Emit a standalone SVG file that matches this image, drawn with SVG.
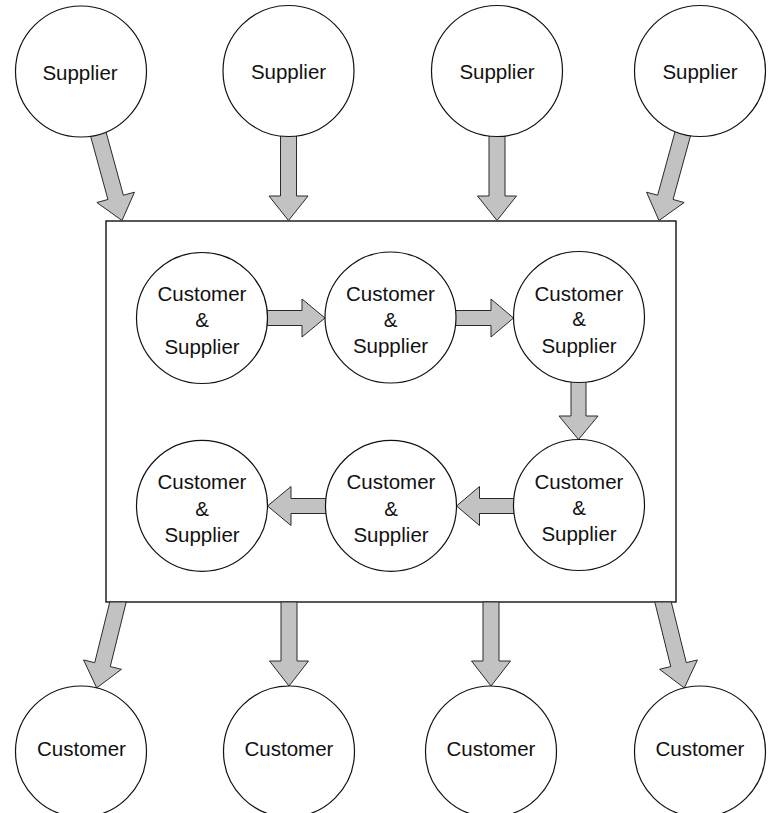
<svg xmlns="http://www.w3.org/2000/svg" width="768" height="813" viewBox="0 0 768 813">
<style>
.node circle{fill:#fff;stroke:#111;stroke-width:1.2}
.box{fill:#fff;stroke:#111;stroke-width:1.4}
.arr polygon{fill:#c2c2c2;stroke:#2a2a2a;stroke-width:1;stroke-linejoin:miter}
text{font-family:"Liberation Sans",Arial,Helvetica,sans-serif;font-size:20.5px;fill:#111;text-anchor:middle}
</style>
<rect width="768" height="813" fill="#fff"/>
<g id="system">
<rect class="box" x="106" y="221" width="570" height="381"/>
</g>
<g id="connectors" class="arr">
<polygon points="87.84,126.16 107.94,199.47 96.85,202.51 122,220.5 134.46,192.2 123.37,195.24 103.27,121.92"/>
<polygon points="280.5,125 280.5,196 269,196 288.5,220.5 308,196 296.5,196 296.5,125"/>
<polygon points="489,125 489,196 477.5,196 497,220.5 516.5,196 505,196 505,125"/>
<polygon points="693.16,126.16 673.06,199.47 684.15,202.51 659,220.5 646.54,192.2 657.63,195.24 677.73,121.92"/>
<polygon points="109.75,602 94.73,662.7 83.57,659.94 96.73,687.92 121.42,669.31 110.26,666.55 126.23,602"/>
<polygon points="281,602 281,661 269.5,661 289,686 308.5,661 297,661 297,602"/>
<polygon points="483,602 483,661 471.5,661 491,686 510.5,661 499,661 499,602"/>
<polygon points="671.25,602 686.27,662.7 697.43,659.94 684.27,687.92 659.58,669.31 670.74,666.55 654.77,602"/>
<polygon points="260,310.5 302,310.5 302,299 325,318 302,337 302,325.5 260,325.5"/>
<polygon points="450,310.5 491,310.5 491,299 513.5,318 491,337 491,325.5 450,325.5"/>
<polygon points="571,375 571,416 559,416 578.5,439.5 598,416 586,416 586,375"/>
<polygon points="520,498.5 479.5,498.5 479.5,486.5 456.5,506 479.5,525.5 479.5,513.5 520,513.5"/>
<polygon points="330,498.5 291,498.5 291,486.5 267.5,506 291,525.5 291,513.5 330,513.5"/>
</g>
<g id="supplier1" class="node"><circle cx="81" cy="71.5" r="65.5"/><text x="80" y="80">Supplier</text></g>
<g id="supplier2" class="node"><circle cx="288.5" cy="71" r="65.5"/><text x="288.5" y="79">Supplier</text></g>
<g id="supplier3" class="node"><circle cx="497" cy="71" r="65.5"/><text x="497" y="79">Supplier</text></g>
<g id="supplier4" class="node"><circle cx="700" cy="71" r="65.5"/><text x="700" y="79">Supplier</text></g>
<g id="cs1" class="node"><circle cx="202" cy="318" r="65.5"/><text x="202" y="301">Customer</text><text x="202" y="327">&amp;</text><text x="202" y="353.5">Supplier</text></g>
<g id="cs2" class="node"><circle cx="390.5" cy="317.5" r="65.5"/><text x="390.5" y="300.5">Customer</text><text x="390.5" y="326.5">&amp;</text><text x="390.5" y="353">Supplier</text></g>
<g id="cs3" class="node"><circle cx="579" cy="317" r="65.5"/><text x="579" y="300.5">Customer</text><text x="579" y="326">&amp;</text><text x="579" y="352.5">Supplier</text></g>
<g id="cs4" class="node"><circle cx="579" cy="505" r="65.5"/><text x="579" y="488.5">Customer</text><text x="579" y="514.5">&amp;</text><text x="579" y="541">Supplier</text></g>
<g id="cs5" class="node"><circle cx="391" cy="505.8" r="65.5"/><text x="391" y="489">Customer</text><text x="391" y="515.5">&amp;</text><text x="391" y="541.5">Supplier</text></g>
<g id="cs6" class="node"><circle cx="202" cy="505.8" r="65.5"/><text x="202" y="489">Customer</text><text x="202" y="515.5">&amp;</text><text x="202" y="541.5">Supplier</text></g>
<g id="customer1" class="node"><circle cx="81" cy="751.5" r="65.5"/><text x="81.5" y="756">Customer</text></g>
<g id="customer2" class="node"><circle cx="289" cy="751.5" r="65.5"/><text x="289" y="756">Customer</text></g>
<g id="customer3" class="node"><circle cx="491" cy="751.5" r="65.5"/><text x="491" y="756">Customer</text></g>
<g id="customer4" class="node"><circle cx="700" cy="751.5" r="65.5"/><text x="700" y="755.5">Customer</text></g>
</svg>
